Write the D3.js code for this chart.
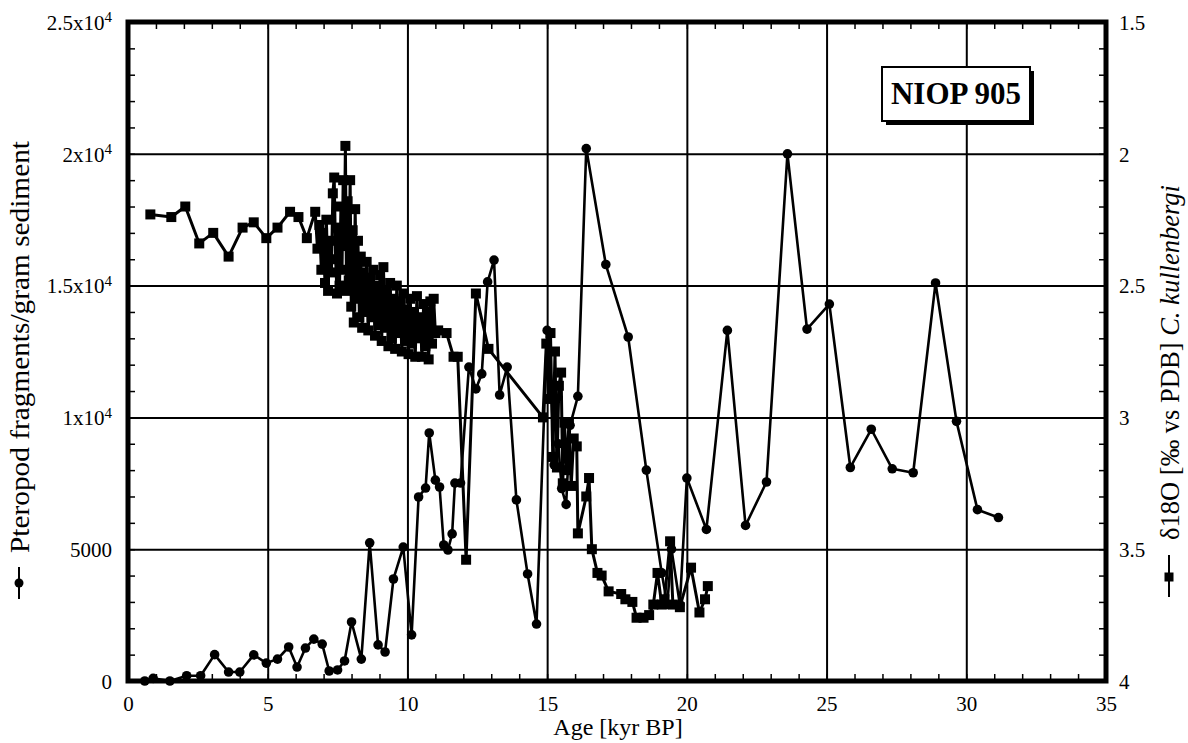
<!DOCTYPE html>
<html><head><meta charset="utf-8">
<script src="https://cdn.jsdelivr.net/npm/d3@7"></script>
<style>body{margin:0;background:#fff}</style>
</head><body>
<svg id="c" width="1188" height="743" xmlns="http://www.w3.org/2000/svg"></svg>
<script>
// ---- data ----
const ageP = [0.6,0.9,1.5,2.1,2.6,3.1,3.6,4.0,4.5,4.95,5.35,5.75,6.05,6.35,6.65,6.95,7.2,7.5,7.75,8.0,8.35,8.65,8.95,9.2,9.5,9.85,10.15,10.4,10.65,10.78,11.0,11.15,11.3,11.45,11.6,11.7,11.9,12.2,12.45,12.66,12.87,13.1,13.3,13.57,13.9,14.3,14.62,15.0,15.1,15.25,15.4,15.52,15.68,15.82,16.1,16.4,17.1,17.9,18.55,19.1,19.3,19.45,19.75,20.0,20.7,21.45,22.1,22.85,23.6,24.3,25.1,25.85,26.6,27.35,28.1,28.9,29.65,30.4,31.15];
const pteropod = [0,100,0,200,200,1000,340,340,990,680,830,1290,530,1250,1590,1400,380,420,760,2240,830,5240,1370,1100,3870,5080,1750,6980,7320,9410,7620,7360,5160,4970,5580,7510,7510,11910,11080,11650,15140,15970,10850,11910,6870,4060,2160,13300,12500,8200,9000,7300,6700,9700,10800,20200,15800,13050,8000,4100,2900,5000,2900,7700,5750,13300,5900,7550,20000,13350,14300,8100,9550,8050,7900,15100,9850,6500,6200];

const ageO = [0.8,1.55,2.05,2.55,3.05,3.6,4.1,4.5,4.95,5.35,5.8,6.1,6.4,6.7,
 6.78,6.85,6.92,6.98,7.05,7.10,7.16,7.22,7.28,7.33,7.38,7.43,7.48,7.52,7.57,7.62,7.66,7.70,7.74,7.78,7.82,7.86,7.90,7.95,7.99,8.04,8.08,8.13,8.18,8.23,8.28,8.33,8.38,8.43,8.48,8.54,8.60,8.66,8.72,8.78,8.84,8.90,8.96,9.02,9.08,9.14,9.20,9.26,9.32,9.38,9.44,9.50,9.56,9.62,9.68,9.74,9.80,9.86,9.92,9.98,10.04,10.10,10.16,10.22,10.28,10.34,10.40,10.46,10.52,10.58,10.64,10.70,10.76,10.82,10.88,10.94,11.00,
 11.1,11.4,11.65,11.8,12.1,12.45,12.9,
 14.85,14.97,15.05,15.12,15.2,15.28,15.35,15.42,15.5,15.56,15.62,15.7,15.78,15.86,15.95,16.06,16.1,16.4,16.5,16.6,16.8,16.95,17.2,17.65,17.8,18.05,18.2,18.45,18.65,18.8,18.95,19.1,19.2,19.4,19.5,19.75,20.15,20.45,20.65,20.75];
const d18O = [2.23,2.24,2.20,2.34,2.30,2.39,2.28,2.26,2.32,2.28,2.22,2.24,2.32,2.22,
 2.36,2.27,2.44,2.30,2.49,2.25,2.52,2.33,2.45,2.15,2.09,2.40,2.53,2.28,2.50,2.20,2.44,2.10,2.35,1.97,2.52,2.18,2.48,2.10,2.58,2.29,2.64,2.21,2.55,2.33,2.62,2.39,2.66,2.45,2.60,2.41,2.67,2.47,2.62,2.44,2.69,2.50,2.65,2.46,2.71,2.43,2.66,2.52,2.73,2.49,2.70,2.55,2.74,2.50,2.68,2.56,2.75,2.53,2.71,2.59,2.76,2.55,2.72,2.60,2.77,2.54,2.70,2.62,2.77,2.57,2.73,2.60,2.78,2.56,2.72,2.55,2.68,
 2.67,2.68,2.77,2.77,3.54,2.53,2.74,
 3.00,2.72,2.93,2.68,3.15,2.75,3.19,2.88,2.83,3.25,3.02,3.20,3.02,3.26,3.08,3.11,3.44,3.30,3.23,3.50,3.59,3.60,3.66,3.67,3.69,3.70,3.76,3.76,3.75,3.71,3.59,3.71,3.69,3.47,3.71,3.72,3.57,3.74,3.69,3.64];

const xTicks = [0,5,10,15,20,25,30,35];
const yLeftTicks = [0,5000,10000,15000,20000,25000];
const yLeftMant = ["0","5000","1x10","1.5x10","2x10","2.5x10"];
const yLeftExp = ["","","4","4","4","4"];
const yRightTicks = [1.5,2,2.5,3,3.5,4];
const yRightLabels = ["1.5","2","2.5","3","3.5","4"];
const title = "NIOP 905";
const xTitle = "Age [kyr BP]";
const yLeftTitle = "Pteropod fragments/gram sediment";
const yRightTitleA = "δ18O [‰ vs PDB] ";
const yRightTitleB = "C. kullenbergi";

// ---- layout ----
const svg = d3.select("#c");
const L = 128, R = 1106, T = 22, B = 681;
const font = "'Liberation Serif','Times New Roman',serif";
const x = d3.scaleLinear().domain([0, 35]).range([L, R]);
const yL = d3.scaleLinear().domain([0, 25000]).range([B, T]);
const yR = d3.scaleLinear().domain([1.5, 4]).range([T, B]);

svg.append("rect").attr("width", 1188).attr("height", 743).attr("fill", "#fff");

function styleAxis(g, sw) {
  g.select(".domain").remove();
  g.selectAll("line").attr("stroke", "#000").attr("stroke-width", sw);
}
// gridlines
svg.append("g").attr("transform", `translate(0,${B})`)
  .call(d3.axisBottom(x).tickValues(xTicks.slice(1, -1)).tickSize(-(B - T)).tickFormat(""))
  .call(g => styleAxis(g, 2));
svg.append("g").attr("transform", `translate(${L},0)`)
  .call(d3.axisLeft(yL).tickValues(yLeftTicks.slice(1, -1)).tickSize(-(R - L)).tickFormat(""))
  .call(g => styleAxis(g, 2));

// minor ticks
const minorX = d3.range(0, 36, 1);
const minorYL = d3.range(0, 25001, 1000);
const minorYR = d3.range(15, 41, 1).map(v => v / 10);
svg.append("g").attr("transform", `translate(0,${B})`)
  .call(d3.axisBottom(x).tickValues(minorX).tickSize(-7).tickFormat("")).call(g => styleAxis(g, 1.5));
svg.append("g").attr("transform", `translate(0,${T})`)
  .call(d3.axisTop(x).tickValues(minorX).tickSize(-7).tickFormat("")).call(g => styleAxis(g, 1.5));
svg.append("g").attr("transform", `translate(${L},0)`)
  .call(d3.axisLeft(yL).tickValues(minorYL).tickSize(-7).tickFormat("")).call(g => styleAxis(g, 1.5));
svg.append("g").attr("transform", `translate(${R},0)`)
  .call(d3.axisRight(yR).tickValues(minorYR).tickSize(-7).tickFormat("")).call(g => styleAxis(g, 1.5));

// frame
svg.append("rect").attr("x", L).attr("y", T).attr("width", R - L).attr("height", B - T)
  .attr("fill", "none").attr("stroke", "#000").attr("stroke-width", 5);

// tick labels
const gx = svg.append("g").attr("transform", `translate(0,${B})`)
  .call(d3.axisBottom(x).tickValues(xTicks).tickSize(0).tickFormat(d => String(d)));
gx.select(".domain").remove();
gx.selectAll("text").attr("y", 30).attr("dy", 0).attr("font-family", font).attr("font-size", 21).attr("fill", "#000");

const gl = svg.append("g").attr("transform", `translate(${L},0)`)
  .call(d3.axisLeft(yL).tickValues(yLeftTicks).tickSize(0).tickPadding(16));
gl.select(".domain").remove();
gl.selectAll("text").each(function(d, i) {
  const t = d3.select(this).text(null).attr("font-family", font).attr("font-size", 21).attr("fill", "#000").attr("dy", "0.35em");
  t.append("tspan").text(yLeftMant[i]);
  if (yLeftExp[i]) t.append("tspan").attr("dy", "-0.5em").attr("font-size", 15).text(yLeftExp[i]);
});

const gr = svg.append("g").attr("transform", `translate(${R},0)`)
  .call(d3.axisRight(yR).tickValues(yRightTicks).tickSize(0).tickPadding(13).tickFormat((d, i) => yRightLabels[i]));
gr.select(".domain").remove();
gr.selectAll("text").attr("font-family", font).attr("font-size", 21).attr("fill", "#000").attr("dy", "0.35em");

// axis titles
svg.append("text").attr("x", 618).attr("y", 735).attr("text-anchor", "middle")
  .attr("font-family", font).attr("font-size", 24).text(xTitle);

const lt = svg.append("g").attr("transform", "translate(29,600) rotate(-90)");
lt.append("line").attr("x1", 1).attr("x2", 33).attr("y1", -10).attr("y2", -10).attr("stroke", "#000").attr("stroke-width", 2);
lt.append("circle").attr("cx", 17).attr("cy", -10).attr("r", 4.5).attr("fill", "#000");
lt.append("text").attr("x", 47).attr("y", 0).attr("font-family", font).attr("font-size", 28)
  .attr("textLength", 412).attr("lengthAdjust", "spacingAndGlyphs").text(yLeftTitle);

const rt = svg.append("g").attr("transform", "translate(1179,597) rotate(-90)");
rt.append("line").attr("x1", 0).attr("x2", 42).attr("y1", -10).attr("y2", -10).attr("stroke", "#000").attr("stroke-width", 2);
rt.append("rect").attr("x", 15.5).attr("y", -14.5).attr("width", 9).attr("height", 9).attr("fill", "#000");
const rtt = rt.append("text").attr("x", 57).attr("y", 0).attr("font-family", font).attr("font-size", 27)
  .attr("textLength", 355).attr("lengthAdjust", "spacingAndGlyphs");
rtt.append("tspan").text(yRightTitleA);
rtt.append("tspan").attr("font-style", "italic").text(yRightTitleB);

// title box
svg.append("rect").attr("x", 886).attr("y", 71).attr("width", 148).attr("height", 54).attr("fill", "#000");
svg.append("rect").attr("x", 882).attr("y", 67).attr("width", 148).attr("height", 54)
  .attr("fill", "#fff").attr("stroke", "#000").attr("stroke-width", 2);
svg.append("text").attr("x", 956).attr("y", 104).attr("text-anchor", "middle")
  .attr("font-family", font).attr("font-weight", "bold").attr("font-size", 31).text(title);

// series
const dataP = ageP.map((a, i) => [a, pteropod[i]]);
const dataO = ageO.map((a, i) => [a, d18O[i]]);

svg.append("path").datum(dataO).attr("fill", "none").attr("stroke", "#000").attr("stroke-width", 3)
  .attr("stroke-linejoin", "round")
  .attr("d", d3.line().x(d => x(d[0])).y(d => yR(d[1])));
svg.append("g").selectAll("rect").data(dataO).join("rect")
  .attr("x", d => x(d[0]) - 5).attr("y", d => yR(d[1]) - 5).attr("width", 10).attr("height", 10).attr("fill", "#000");

svg.append("path").datum(dataP).attr("fill", "none").attr("stroke", "#000").attr("stroke-width", 2.6)
  .attr("stroke-linejoin", "round")
  .attr("d", d3.line().x(d => x(d[0])).y(d => yL(d[1])));
svg.append("g").selectAll("circle").data(dataP).join("circle")
  .attr("cx", d => x(d[0])).attr("cy", d => yL(d[1])).attr("r", 4.8).attr("fill", "#000");
</script>
</body></html>
